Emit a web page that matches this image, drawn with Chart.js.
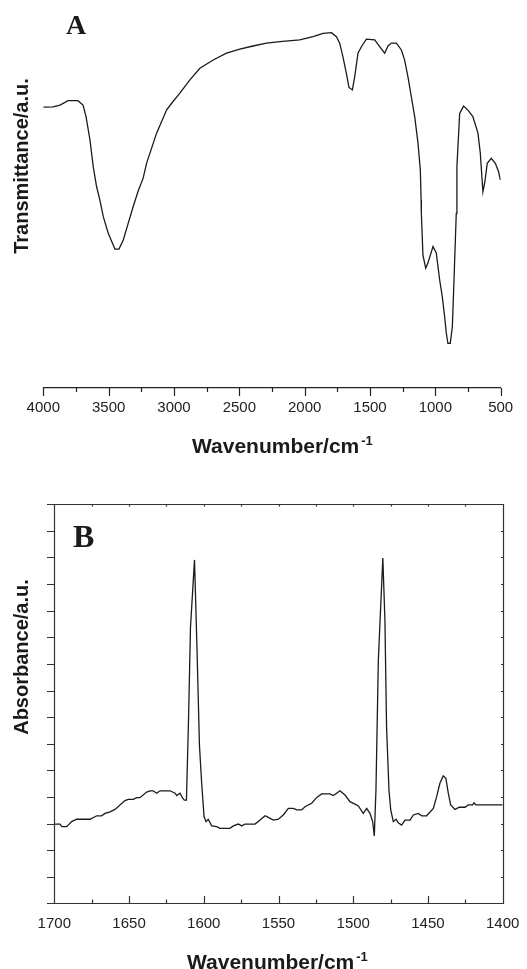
<!DOCTYPE html>
<html>
<head>
<meta charset="utf-8">
<script src="https://cdn.jsdelivr.net/npm/chart.js@4.4.1/dist/chart.umd.min.js"></script>
<style>
  html, body { margin: 0; padding: 0; background: #fff; }
  #page { position: relative; width: 527px; height: 969px; overflow: hidden; background: #fff; }
  canvas { position: absolute; left: 0; }
  #chartA { top: 0; }
  #chartB { top: 460px; }
  .lbl { position: absolute; white-space: nowrap; color: #1a1a1a; line-height: 1; }
  .panel { font-family: 'Liberation Serif', 'Times New Roman', serif; font-weight: bold; }
  .axt { font-family: 'Liberation Sans', Arial, sans-serif; font-weight: bold; font-size: 21px; }
  .axt sup { font-size: 13px; vertical-align: baseline; position: relative; top: -8px; margin-left: 2px; }
  .ytitle { width: 220px; height: 24px; line-height: 24px; text-align: center; font-size: 20px; transform: rotate(-90deg); }
</style>
</head>
<body>
<div id="page">
  <canvas id="chartA" width="527" height="460"></canvas>
  <canvas id="chartB" width="527" height="509"></canvas>

  <div class="lbl panel" style="left:66px; top:11px; font-size:28px;">A</div>
  <div class="lbl axt ytitle" style="left:-89px; top:154px;">Transmittance/a.u.</div>
  <div class="lbl axt" style="left:192px; top:435px;">Wavenumber/cm<sup>-1</sup></div>

  <div class="lbl panel" style="left:73px; top:520px; font-size:32px;">B</div>
  <div class="lbl axt ytitle" style="left:-89px; top:645px;">Absorbance/a.u.</div>
  <div class="lbl axt" style="left:187px; top:951px;">Wavenumber/cm<sup>-1</sup></div>
</div>

<script>
// Panel A: FTIR transmittance (arbitrary units 0-100)
const WAVENUMBER_A = [4000, 3926, 3872, 3811, 3735, 3696, 3673, 3643, 3618, 3592,
    3567, 3541, 3503, 3465, 3452, 3421, 3388, 3350, 3312, 3274,
    3236, 3210, 3133, 3057, 3018, 2955, 2878, 2802, 2700, 2598,
    2496, 2395, 2292, 2190, 2038, 1936, 1859, 1795, 1757, 1732,
    1707, 1681, 1661, 1635, 1617, 1592, 1566, 1528, 1464, 1426,
    1388, 1362, 1336, 1298, 1260, 1235, 1210, 1184, 1158, 1133,
    1115, 1109, 1107, 1095, 1074, 1057, 1018, 993, 967, 947,
    929, 916, 904, 886, 870, 860, 840, 835, 814, 784,
    751, 713, 674, 656, 644, 636, 621, 603, 572, 541,
    516, 503];
const TRANSMITTANCE_A = [78.0, 78.1, 78.6, 79.8, 79.8, 78.6, 75.4, 68.9, 61.5, 55.9,
    52.2, 47.6, 43.0, 39.7, 38.6, 38.6, 41.1, 45.8, 50.4, 54.7,
    58.3, 62.4, 70.8, 77.2, 79.1, 81.9, 85.6, 88.8, 91.1, 93.0,
    94.1, 95.0, 95.8, 96.2, 96.7, 97.6, 98.5, 98.7, 97.6, 95.8,
    92.0, 87.4, 83.5, 82.8, 86.5, 93.0, 94.8, 96.9, 96.7, 94.8,
    93.0, 95.0, 95.8, 95.8, 93.9, 91.1, 86.5, 80.9, 75.4, 68.1,
    60.6, 52.2, 48.5, 36.9, 33.3, 34.7, 39.3, 37.5, 30.0, 25.4,
    19.8, 15.2, 12.4, 12.4, 17.0, 27.2, 48.5, 61.5, 76.3, 78.3,
    77.2, 75.4, 70.8, 65.2, 58.7, 54.5, 57.3, 62.4, 63.8, 62.4,
    60.1, 57.8];
const X_LABELS_A = [4000, 3500, 3000, 2500, 2000, 1500, 1000, 500];

// Panel B: absorbance in the 1700-1400 region (arbitrary units 0-15)
const WAVENUMBER_B = [1700, 1696.2, 1695.0, 1691.7, 1688.4, 1685.0, 1676.1, 1671.6, 1668.3, 1666.1,
    1662.7, 1659.4, 1652.7, 1650.5, 1647.1, 1644.9, 1642.7, 1638.2, 1636.0, 1633.8,
    1631.5, 1629.3, 1622.6, 1619.2, 1618.1, 1615.9, 1614.1, 1613.0, 1611.6, 1610.2,
    1608.9, 1606.2, 1604.5, 1602.9, 1601.4, 1599.8, 1598.5, 1597.0, 1594.7, 1591.3,
    1589.1, 1582.5, 1580.2, 1576.9, 1574.6, 1572.4, 1565.7, 1562.3, 1559.0, 1556.8,
    1553.5, 1550.1, 1546.8, 1543.4, 1540.1, 1537.8, 1534.5, 1532.3, 1527.8, 1524.4,
    1521.1, 1515.6, 1513.3, 1511.1, 1508.9, 1505.5, 1502.2, 1498.8, 1496.6, 1493.3,
    1491.0, 1488.8, 1487.0, 1485.9, 1484.8, 1483.2, 1480.2, 1478.8, 1477.7, 1476.1,
    1474.9, 1473.2, 1471.4, 1469.9, 1467.6, 1465.4, 1462.0, 1459.8, 1456.5, 1454.2,
    1450.9, 1446.4, 1444.2, 1442.0, 1439.8, 1438.0, 1436.4, 1434.8, 1431.9, 1429.0,
    1425.2, 1423.0, 1420.1, 1419.2, 1417.9, 1400];
const ABSORBANCE_B = [2.98, 2.98, 2.88, 2.88, 3.07, 3.16, 3.16, 3.29, 3.29, 3.38,
    3.44, 3.53, 3.86, 3.91, 3.91, 3.97, 3.97, 4.18, 4.23, 4.23,
    4.14, 4.23, 4.23, 4.14, 4.05, 4.14, 3.95, 3.88, 3.88, 6.89,
    10.35, 12.91, 9.52, 5.95, 4.51, 3.26, 3.07, 3.16, 2.91, 2.88,
    2.82, 2.82, 2.91, 2.98, 2.91, 2.98, 2.98, 3.13, 3.29, 3.23,
    3.13, 3.16, 3.32, 3.57, 3.57, 3.51, 3.51, 3.63, 3.76, 3.98,
    4.11, 4.11, 4.05, 4.14, 4.23, 4.07, 3.82, 3.73, 3.66, 3.38,
    3.57, 3.38, 3.07, 2.53, 4.26, 9.15, 12.98, 10.65, 6.63, 4.26,
    3.51, 3.07, 3.16, 3.03, 2.94, 3.13, 3.13, 3.32, 3.38, 3.29,
    3.29, 3.57, 4.01, 4.51, 4.79, 4.70, 4.14, 3.70, 3.53, 3.61,
    3.61, 3.70, 3.70, 3.78, 3.70, 3.70];
const X_LABELS_B = [1700, 1650, 1600, 1550, 1500, 1450, 1400];

Chart.defaults.font.family = "'Liberation Sans', Arial, sans-serif";
Chart.defaults.color = '#222';

// draws major/minor tick marks (and the frame for panel B) from the scales' own ticks
const frameTicks = {
    id: 'frameTicks',
    afterDraw(chart, args, o) {
        const { ctx, chartArea: a, scales } = chart;
        const px = v => Math.round(v) + 0.5;
        ctx.save();
        ctx.strokeStyle = o.color;
        ctx.lineWidth = o.width;
        ctx.beginPath();
        if (o.box) {
            ctx.rect(px(a.left), px(a.top), Math.round(a.right) - Math.round(a.left), Math.round(a.bottom) - Math.round(a.top));
        }
        scales.x.ticks.forEach(t => {
            const x = px(scales.x.getPixelForValue(t.value));
            const len = t.label !== '' ? o.majorLen : o.minorLen;
            ctx.moveTo(x, Math.round(a.bottom));
            ctx.lineTo(x, Math.round(a.bottom) + o.bottomDir * len);
            if (o.topLen) {
                ctx.moveTo(x, Math.round(a.top));
                ctx.lineTo(x, Math.round(a.top) + o.topLen);
            }
        });
        if (o.leftLen) {
            scales.y.ticks.forEach(t => {
                const y = px(scales.y.getPixelForValue(t.value));
                ctx.moveTo(Math.round(a.left) - o.leftLen, y);
                ctx.lineTo(Math.round(a.left), y);
                if (o.rightLen) {
                    ctx.moveTo(Math.round(a.right), y);
                    ctx.lineTo(Math.round(a.right) - o.rightLen, y);
                }
            });
        }
        ctx.stroke();
        ctx.restore();
    }
};

function toPoints(xs, ys) {
    return xs.map((x, i) => ({ x: x, y: ys[i] }));
}

// Panel A
new Chart(document.getElementById('chartA'), {
    type: 'line',
    data: {
        datasets: [{
            data: toPoints(WAVENUMBER_A, TRANSMITTANCE_A),
            borderColor: '#1a1a1a',
            borderWidth: 1.3,
            pointRadius: 0,
            fill: false,
            tension: 0
        }]
    },
    options: {
        responsive: false,
        animation: false,
        layout: { padding: { left: 43.3, right: 26.3, top: 28, bottom: 36 } },
        plugins: {
            legend: { display: false },
            tooltip: { enabled: false },
            frameTicks: { color: '#222', width: 1.2, majorLen: 8, minorLen: 4, bottomDir: 1 }
        },
        scales: {
            x: {
                type: 'linear',
                reverse: true,
                min: 500,
                max: 4000,
                ticks: {
                    stepSize: 250,
                    autoSkip: false,
                    maxRotation: 0,
                    padding: 7,
                    font: { size: 15 },
                    color: '#222',
                    callback: v => X_LABELS_A.includes(v) ? String(v) : ''
                },
                // ticks themselves are drawn by frameTicks; tickLength only reserves room
                grid: { display: false, drawTicks: true, tickLength: 4 },
                border: { display: true, color: '#222', width: 1.3 }
            },
            y: { display: false, min: 0, max: 100 }
        }
    },
    plugins: [frameTicks]
});

// Panel B
new Chart(document.getElementById('chartB'), {
    type: 'line',
    data: {
        datasets: [{
            data: toPoints(WAVENUMBER_B, ABSORBANCE_B),
            borderColor: '#1a1a1a',
            borderWidth: 1.3,
            pointRadius: 0,
            fill: false,
            tension: 0
        }]
    },
    options: {
        responsive: false,
        animation: false,
        layout: { padding: { left: 54.3, right: 24.3, top: 44.3, bottom: 28.7 } },
        plugins: {
            legend: { display: false },
            tooltip: { enabled: false },
            frameTicks: {
                color: '#333', width: 1.2, box: true,
                majorLen: 7, minorLen: 3.5, bottomDir: -1,
                topLen: 2.5, leftLen: 7, rightLen: 2
            }
        },
        scales: {
            x: {
                type: 'linear',
                reverse: true,
                min: 1400,
                max: 1700,
                ticks: {
                    stepSize: 25,
                    autoSkip: false,
                    maxRotation: 0,
                    padding: 7,
                    font: { size: 15 },
                    color: '#222',
                    callback: v => X_LABELS_B.includes(v) ? String(v) : ''
                },
                grid: { display: false, drawTicks: true, tickLength: 5 },
                border: { display: false }
            },
            y: {
                min: 0,
                max: 15,
                ticks: { display: false, stepSize: 1 },
                grid: { display: false, drawTicks: false },
                border: { display: false }
            }
        }
    },
    plugins: [frameTicks]
});
</script>
</body>
</html>
